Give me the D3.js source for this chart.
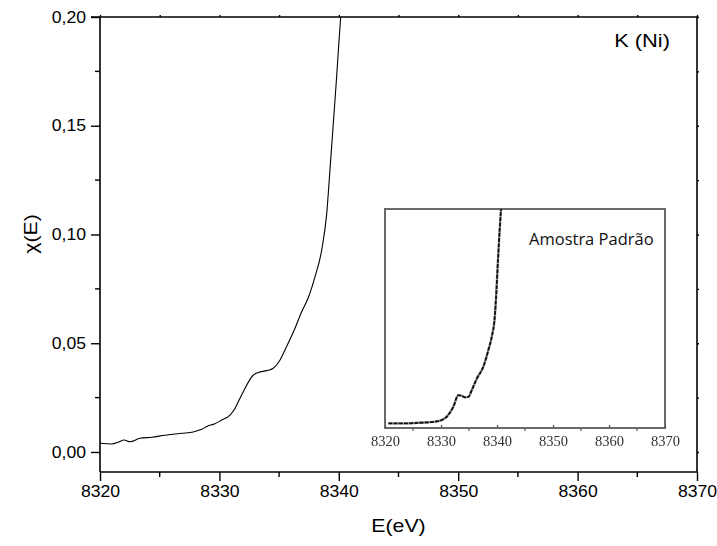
<!DOCTYPE html>
<html>
<head>
<meta charset="utf-8">
<script src="https://cdn.jsdelivr.net/npm/d3@7"></script>
<style>
  html, body { margin: 0; padding: 0; background: #fff; }
  svg { display: block; }
</style>
</head>
<body>
<svg id="chart" width="717" height="546"></svg>
<script>
// Ni K-edge XANES, sample spectrum: energy (eV) and χ(E)
const energy = [8320.0, 8320.98, 8321.53, 8322.04, 8322.51, 8323.35, 8324.33, 8325.44, 8326.84, 8327.81,
  8328.52, 8329.07, 8329.49, 8330.19, 8330.89, 8331.25, 8331.58, 8332.0, 8332.84, 8333.26,
  8333.96, 8334.51, 8335.08, 8335.49, 8336.33, 8336.89, 8337.45, 8338.01, 8338.57, 8338.99,
  8339.26, 8339.54, 8339.82, 8340.04, 8340.16, 8340.3];
const chi = [0.0040, 0.0037, 0.0045, 0.0055, 0.0047, 0.0063, 0.0068, 0.0077, 0.0086, 0.0092,
  0.0104, 0.0121, 0.0127, 0.0147, 0.0170, 0.0195, 0.0231, 0.0277, 0.0354, 0.0366,
  0.0374, 0.0385, 0.0423, 0.0469, 0.0569, 0.0645, 0.0710, 0.0806, 0.0929, 0.1097,
  0.1297, 0.1511, 0.1726, 0.1909, 0.2001, 0.2120];

// Reference standard ("Amostra Padrão"), normalised absorption
const refEnergy = [8320.6, 8323.3, 8326.25, 8328.9, 8330.1, 8331.0, 8332.2, 8333.1, 8333.7, 8334.3,
  8334.9, 8335.5, 8336.4, 8337.55, 8338.45, 8339.05, 8339.6, 8339.9, 8340.2, 8340.5, 8340.7, 8340.9];
const refMu = [0.021, 0.021, 0.024, 0.029, 0.036, 0.051, 0.097, 0.150, 0.147, 0.140,
  0.142, 0.173, 0.226, 0.279, 0.355, 0.415, 0.506, 0.627, 0.779, 0.915, 0.991, 1.06];

const xTicks = [8320, 8330, 8340, 8350, 8360, 8370];
const yTicks = [0.00, 0.05, 0.10, 0.15, 0.20];
const xMinor = [8325, 8335, 8345, 8355, 8365];
const yMinor = [0.025, 0.075, 0.125, 0.175];

const svg = d3.select("#chart");
const m = { left: 100, right: 697, top: 17, bottom: 472 };

const x = d3.scaleLinear().domain([8320, 8370]).range([m.left, m.right]);
const y = d3.scaleLinear().domain([-0.0092, 0.20]).range([m.bottom, m.top]);

const fmt = d => d3.format(".2f")(d).replace(".", ",");

// widen lettering horizontally (the figure's text is set slightly extended)
function widen(sel, k) {
  sel.each(function () {
    const w = this.getComputedTextLength();
    d3.select(this).attr("textLength", w * k).attr("lengthAdjust", "spacingAndGlyphs");
  });
}

const defs = svg.append("defs");
defs.append("clipPath").attr("id", "plotClip")
  .append("rect").attr("x", m.left).attr("y", m.top)
  .attr("width", m.right - m.left).attr("height", m.bottom - m.top);

// main spectrum
svg.append("path")
  .datum(energy.map((e, i) => [e, chi[i]]))
  .attr("clip-path", "url(#plotClip)")
  .attr("fill", "none").attr("stroke", "#000").attr("stroke-width", 1.1)
  .attr("d", d3.line().x(d => x(d[0])).y(d => y(d[1])).curve(d3.curveMonotoneX));

// axes
const axisFont = "'Liberation Sans', Arial, Helvetica, sans-serif";
const gx = svg.append("g").attr("transform", `translate(0,${m.bottom})`)
  .call(d3.axisBottom(x).tickValues(xTicks).tickFormat(d3.format("d")).tickSize(9).tickPadding(5));
gx.append("g").selectAll("line").data(xMinor).join("line")
  .attr("x1", d => x(d)).attr("x2", d => x(d)).attr("y1", 0).attr("y2", 5);

const gy = svg.append("g").attr("transform", `translate(${m.left},0)`)
  .call(d3.axisLeft(y).tickValues(yTicks).tickFormat(fmt).tickSize(9).tickPadding(5));
gy.append("g").selectAll("line").data(yMinor).join("line")
  .attr("x1", 0).attr("x2", -5).attr("y1", d => y(d)).attr("y2", d => y(d));

const gTop = svg.append("g").attr("transform", `translate(0,${m.top})`)
  .call(d3.axisTop(x).tickValues(xTicks.concat(xMinor)).tickFormat("").tickSize(2));
const gRight = svg.append("g").attr("transform", `translate(${m.right},0)`)
  .call(d3.axisRight(y).tickValues(yTicks.concat(yMinor)).tickFormat("").tickSize(2));

[gx, gy, gTop, gRight].forEach(g => {
  g.select(".domain").attr("stroke", "#000").attr("stroke-width", 1.6);
  g.selectAll("line").attr("stroke", "#000").attr("stroke-width", 1.4);
  g.selectAll("text").attr("font-family", axisFont).attr("font-size", 16).attr("fill", "#000");
});
widen(gx.selectAll("text"), 1.1);
widen(gy.selectAll("text"), 1.1);
gx.select(".domain").attr("d", `M${m.left},0H${m.right}`);
gy.select(".domain").attr("d", `M0,${m.top}V${m.bottom}`);
gTop.select(".domain").attr("d", `M${m.left - 9},0H${m.right}`);
gRight.select(".domain").attr("d", `M0,${m.top}V${m.bottom}`);

// axis titles
const xTitle = svg.append("text").attr("x", (m.left + m.right) / 2).attr("y", 532)
  .attr("text-anchor", "middle").attr("font-family", axisFont).attr("font-size", 19)
  .text("E(eV)");
const yTitle = svg.append("text").attr("transform", "translate(37,234) rotate(-90)")
  .attr("text-anchor", "middle").attr("font-family", axisFont).attr("font-size", 19)
  .text("χ(E)");
const label = svg.append("text").attr("x", 670).attr("y", 47)
  .attr("text-anchor", "end").attr("font-family", axisFont).attr("font-size", 19)
  .text("K (Ni)");
widen(xTitle, 1.12);
widen(yTitle, 1.12);
widen(label, 1.15);

// inset: reference standard
const ins = { left: 385, right: 665, top: 209, bottom: 428 };
const xi = d3.scaleLinear().domain([8320, 8370]).range([ins.left, ins.right]);
const yi = d3.scaleLinear().domain([0, 1]).range([ins.bottom, ins.top]);
const inset = svg.append("g");
defs.append("clipPath").attr("id", "insetClip")
  .append("rect").attr("x", ins.left).attr("y", ins.top)
  .attr("width", ins.right - ins.left).attr("height", ins.bottom - ins.top);
defs.append("filter").attr("id", "soft")
  .append("feGaussianBlur").attr("stdDeviation", 0.4);

inset.append("rect").attr("x", ins.left).attr("y", ins.top)
  .attr("width", ins.right - ins.left).attr("height", ins.bottom - ins.top)
  .attr("fill", "#fff").attr("stroke", "#6a6a6a").attr("stroke-width", 2);

const refLine = d3.line().x(d => xi(d[0])).y(d => yi(d[1])).curve(d3.curveMonotoneX);
const refData = refEnergy.map((e, i) => [e, refMu[i]]);
inset.append("path").datum(refData)
  .attr("clip-path", "url(#insetClip)")
  .attr("fill", "none").attr("stroke", "#999").attr("stroke-width", 2.4)
  .attr("filter", "url(#soft)").attr("d", refLine);
inset.append("path").datum(refData)
  .attr("clip-path", "url(#insetClip)")
  .attr("fill", "none").attr("stroke", "#111").attr("stroke-width", 1.8)
  .attr("stroke-dasharray", "4 1.2").attr("filter", "url(#soft)").attr("d", refLine);

const gxi = inset.append("g").attr("transform", `translate(0,${ins.bottom})`)
  .call(d3.axisBottom(xi).tickValues(xTicks).tickFormat(d3.format("d")).tickSize(-3).tickPadding(8));
gxi.append("g").selectAll("line").data(xMinor).join("line")
  .attr("x1", d => xi(d)).attr("x2", d => xi(d)).attr("y1", 0).attr("y2", 3);
gxi.select(".domain").remove();
gxi.selectAll("line").attr("stroke", "#555").attr("stroke-width", 1.2);
gxi.selectAll("text").attr("font-family", "'Liberation Serif', 'Times New Roman', serif")
  .attr("font-size", 14.5).attr("fill", "#333").attr("filter", "url(#soft)");

inset.append("text").attr("x", 529).attr("y", 245)
  .attr("font-family", "'Open Sans', sans-serif").attr("font-size", 16.5).attr("fill", "#111")
  .text("Amostra Padrão");
</script>
</body>
</html>
